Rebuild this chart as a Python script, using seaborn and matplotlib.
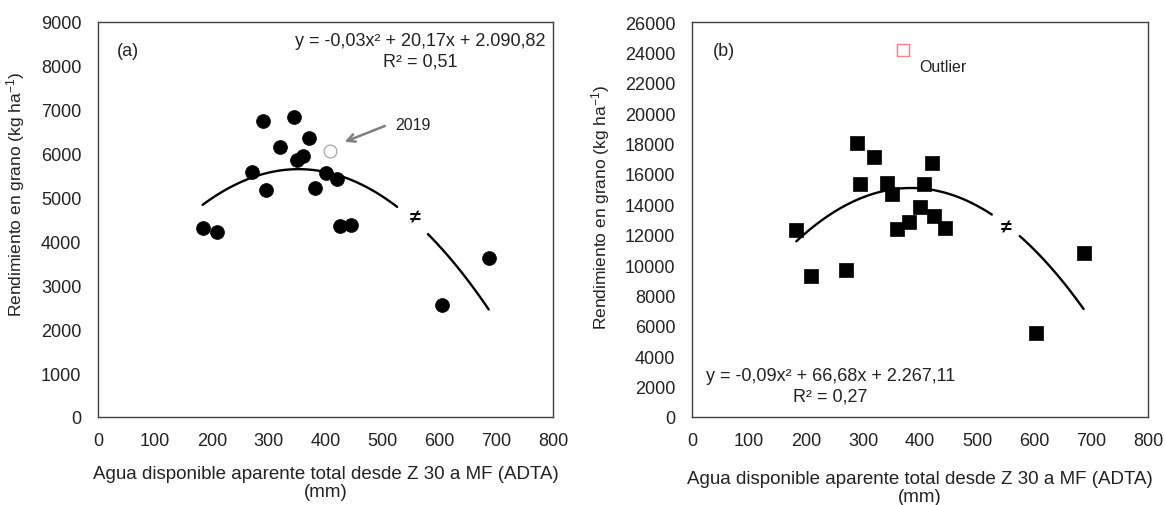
import numpy as np
import pandas as pd
import matplotlib
matplotlib.use("Agg")
import matplotlib.pyplot as plt
import seaborn as sns

# ---- data -------------------------------------------------------------
# (a) grain yield vs. apparent available water, circles
adta_a = [184, 209, 271, 290, 295, 320, 344, 350, 361, 371, 381, 401, 421, 425, 445, 604, 687]
rend_a = [4310, 4220, 5590, 6750, 5165, 6155, 6825, 5860, 5945, 6360, 5215, 5565, 5420, 4360, 4380, 2560, 3620]
year_2019 = [408, 6070]          # highlighted season (x, y)
coef_a = [-0.0286, 20.17, 2090.82]  # quadratic fit: a, b, c
r2_a = 0.51
seg_a = [[184, 526], [580, 687]]   # fitted curve drawn in two pieces
neq_a = [557, 4556]                # position of the break sign

# (b) squares
adta_b = [183, 209, 271, 290, 294, 320, 342, 351, 360, 380, 400, 407, 421, 425, 443, 604, 687]
rend_b = [12330, 9300, 9700, 18040, 15360, 17120, 15420, 14700, 12380, 12820, 13830, 15320, 16720, 13230, 12460, 5550, 10800]
outlier_b = [371, 24180]
coef_b = [-0.0868, 66.68, 2267.11]
r2_b = 0.27
seg_b = [[183, 526], [575, 687]]
neq_b = [551, 12490]

ylims = [9000, 26000]
ysteps = [1000, 2000]
xticks = [0, 100, 200, 300, 400, 500, 600, 700, 800]

# ---- style ------------------------------------------------------------
sns.set_theme(style="white")
plt.rcParams["font.family"] = ["Liberation Sans", "DejaVu Sans"]
plt.rcParams["mathtext.fontset"] = "custom"
plt.rcParams["mathtext.rm"] = "Liberation Sans"
plt.rcParams["mathtext.it"] = "Liberation Sans:italic"
plt.rcParams["mathtext.bf"] = "Liberation Sans:bold"

FS = 13
TXT = "#222222"
SPINE = "#404040"


def es_num(v, dec=2):
    """Format a number with Spanish separators (1.234,56)."""
    s = f"{abs(v):,.{dec}f}"
    s = s.replace(",", "X").replace(".", ",").replace("X", ".")
    return ("-" if v < 0 else "") + s


def eq_text(c):
    a, b, k = c
    sign_b = "+" if b >= 0 else "-"
    sign_k = "+" if k >= 0 else "-"
    return (f"y = {es_num(a)}x\u00b2 {sign_b} {es_num(abs(b))}x {sign_k} {es_num(abs(k))}")


fig = plt.figure(figsize=(11.65, 5.06), dpi=100)
ax_a = fig.add_axes([98 / 1165, 88 / 506, 455 / 1165, 395 / 506])
ax_b = fig.add_axes([692 / 1165, 88 / 506, 456 / 1165, 395 / 506])


def base_axes(ax, ymax, ystep, ylab_xy, xlab_y):
    ax.set_xlim(0, 800)
    ax.set_ylim(0, ymax)
    ax.set_xticks(xticks)
    ax.set_yticks(np.arange(0, ymax + 1, ystep))
    ax.tick_params(axis="both", direction="in", length=5, width=0.8,
                   color=SPINE, labelsize=FS, labelcolor=TXT)
    ax.tick_params(axis="y", pad=12)
    ax.tick_params(axis="x", pad=11)
    for sp in ax.spines.values():
        sp.set_color(SPINE)
        sp.set_linewidth(1.0)
    ax.set_xlabel("Agua disponible aparente total desde Z 30 a MF (ADTA)\n(mm)",
                  fontsize=13.5, color=TXT, linespacing=1.05)
    ax.set_ylabel("Rendimiento en grano (kg ha$^{-1}$)", fontsize=12.5, color=TXT)
    ax.yaxis.set_label_coords(*ylab_xy)
    ax.xaxis.set_label_coords(0.5, xlab_y)


def draw_fit(ax, coef, segs, neq):
    a, b, c = coef
    for x0, x1 in segs:
        xs = np.linspace(x0, x1, 80)
        df = pd.DataFrame({"x": xs, "y": a * xs ** 2 + b * xs + c})
        sns.lineplot(data=df, x="x", y="y", ax=ax, color="black", lw=1.7,
                     zorder=2, legend=False)
    ax.text(neq[0], neq[1], "\u2260", ha="center", va="center", fontsize=FS + 1,
            fontweight="bold", color="black")


# ---- panel (a) --------------------------------------------------------
base_axes(ax_a, ylims[0], ysteps[0], (-0.156, 0.565), -0.122)
draw_fit(ax_a, coef_a, seg_a, neq_a)
sns.scatterplot(x=adta_a, y=rend_a, ax=ax_a, marker="o", s=100, color="black",
                edgecolor="black", linewidth=0.5, zorder=3)
sns.scatterplot(x=[year_2019[0]], y=[year_2019[1]], ax=ax_a, marker="o", s=85,
                facecolor="white", edgecolor="#a6a6a6", linewidth=0.9, zorder=3)
ax_a.annotate("", xy=(year_2019[0] + 21, year_2019[1] + 175),
              xytext=(year_2019[0] + 101, year_2019[1] + 585),
              arrowprops=dict(arrowstyle="->", color="#7f7f7f", lw=1.8,
                              mutation_scale=14))
ax_a.text(year_2019[0] + 115, year_2019[1] + 605, "2019", fontsize=FS - 1.5,
          color=TXT, va="center", ha="left")
ax_a.text(0.042, 0.928, "(a)", transform=ax_a.transAxes, fontsize=FS,
          color=TXT, va="center", ha="left")
ax_a.text(0.708, 0.954, eq_text(coef_a), transform=ax_a.transAxes, fontsize=FS,
          color=TXT, va="center", ha="center")
ax_a.text(0.708, 0.902, f"R\u00b2 = {es_num(r2_a)}", transform=ax_a.transAxes,
          fontsize=FS, color=TXT, va="center", ha="center")

# ---- panel (b) --------------------------------------------------------
base_axes(ax_b, ylims[1], ysteps[1], (-0.175, 0.533), -0.135)
draw_fit(ax_b, coef_b, seg_b, neq_b)
sns.scatterplot(x=adta_b, y=rend_b, ax=ax_b, marker="s", s=100, color="black",
                edgecolor="black", linewidth=0.5, zorder=3)
sns.scatterplot(x=[outlier_b[0]], y=[outlier_b[1]], ax=ax_b, marker="s", s=75,
                facecolor="white", edgecolor="#ff7f7f", linewidth=1.0, zorder=3)
ax_b.text(outlier_b[0] + 27, outlier_b[1] - 1100, "Outlier", fontsize=FS - 1.5,
          color=TXT, va="center", ha="left")
ax_b.text(0.046, 0.928, "(b)", transform=ax_b.transAxes, fontsize=FS,
          color=TXT, va="center", ha="left")
ax_b.text(0.303, 0.104, eq_text(coef_b), transform=ax_b.transAxes, fontsize=FS,
          color=TXT, va="center", ha="center")
ax_b.text(0.303, 0.052, f"R\u00b2 = {es_num(r2_b)}", transform=ax_b.transAxes,
          fontsize=FS, color=TXT, va="center", ha="center")

fig.savefig("out.png", dpi=100, facecolor="white")
